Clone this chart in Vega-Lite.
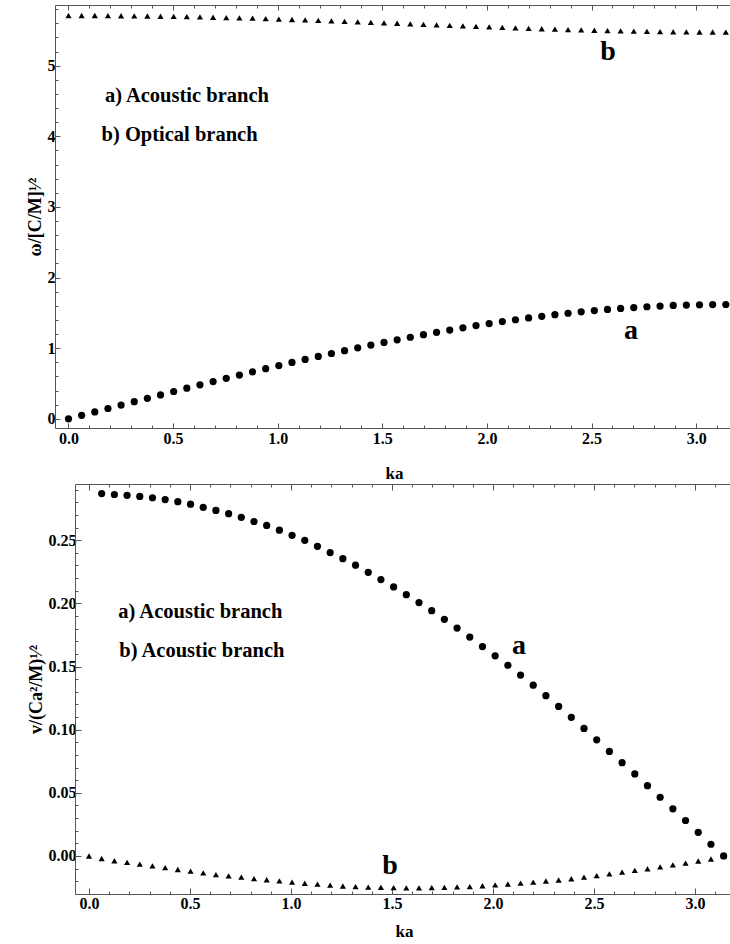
{
  "$schema": "https://vega.github.io/schema/vega-lite/v6.json",
  "background": "white",
  "padding": {"left": 26, "top": 1, "right": 0, "bottom": 0},
  "spacing": 0,
  "config": {
    "view": {"stroke": null},
    "font": "Liberation Serif",
    "axis": {"grid": false, "labelFlush": false, "labelOverlap": false}
  },
  "datasets": {
    "top": [
      {"ka":0,"w":0,"b":"a"},{"ka":0.0628,"w":0.049,"b":"a"},{"ka":0.1257,"w":0.097,"b":"a"},{"ka":0.1885,"w":0.146,"b":"a"},{"ka":0.2513,"w":0.195,"b":"a"},{"ka":0.3142,"w":0.243,"b":"a"},{"ka":0.377,"w":0.291,"b":"a"},{"ka":0.4398,"w":0.339,"b":"a"},{"ka":0.5027,"w":0.387,"b":"a"},{"ka":0.5655,"w":0.434,"b":"a"},{"ka":0.6283,"w":0.481,"b":"a"},{"ka":0.6912,"w":0.528,"b":"a"},{"ka":0.754,"w":0.574,"b":"a"},{"ka":0.8168,"w":0.62,"b":"a"},{"ka":0.8796,"w":0.665,"b":"a"},{"ka":0.9425,"w":0.71,"b":"a"},{"ka":1.0053,"w":0.754,"b":"a"},{"ka":1.0681,"w":0.798,"b":"a"},{"ka":1.131,"w":0.841,"b":"a"},{"ka":1.1938,"w":0.883,"b":"a"},{"ka":1.2566,"w":0.925,"b":"a"},{"ka":1.3195,"w":0.965,"b":"a"},{"ka":1.3823,"w":1.005,"b":"a"},{"ka":1.4451,"w":1.044,"b":"a"},{"ka":1.508,"w":1.082,"b":"a"},{"ka":1.5708,"w":1.119,"b":"a"},{"ka":1.6336,"w":1.155,"b":"a"},{"ka":1.6965,"w":1.191,"b":"a"},{"ka":1.7593,"w":1.225,"b":"a"},{"ka":1.8221,"w":1.257,"b":"a"},{"ka":1.885,"w":1.289,"b":"a"},{"ka":1.9478,"w":1.32,"b":"a"},{"ka":2.0106,"w":1.349,"b":"a"},{"ka":2.0735,"w":1.377,"b":"a"},{"ka":2.1363,"w":1.403,"b":"a"},{"ka":2.1991,"w":1.429,"b":"a"},{"ka":2.2619,"w":1.452,"b":"a"},{"ka":2.3248,"w":1.475,"b":"a"},{"ka":2.3876,"w":1.495,"b":"a"},{"ka":2.4504,"w":1.515,"b":"a"},{"ka":2.5133,"w":1.533,"b":"a"},{"ka":2.5761,"w":1.549,"b":"a"},{"ka":2.6389,"w":1.563,"b":"a"},{"ka":2.7018,"w":1.576,"b":"a"},{"ka":2.7646,"w":1.587,"b":"a"},{"ka":2.8274,"w":1.597,"b":"a"},{"ka":2.8903,"w":1.605,"b":"a"},{"ka":2.9531,"w":1.611,"b":"a"},{"ka":3.0159,"w":1.615,"b":"a"},{"ka":3.0788,"w":1.618,"b":"a"},{"ka":3.1416,"w":1.619,"b":"a"},
      {"ka":0,"w":5.711,"b":"b"},{"ka":0.0628,"w":5.711,"b":"b"},{"ka":0.1257,"w":5.711,"b":"b"},{"ka":0.1885,"w":5.71,"b":"b"},{"ka":0.2513,"w":5.708,"b":"b"},{"ka":0.3142,"w":5.706,"b":"b"},{"ka":0.377,"w":5.704,"b":"b"},{"ka":0.4398,"w":5.701,"b":"b"},{"ka":0.5027,"w":5.698,"b":"b"},{"ka":0.5655,"w":5.695,"b":"b"},{"ka":0.6283,"w":5.691,"b":"b"},{"ka":0.6912,"w":5.687,"b":"b"},{"ka":0.754,"w":5.682,"b":"b"},{"ka":0.8168,"w":5.678,"b":"b"},{"ka":0.8796,"w":5.673,"b":"b"},{"ka":0.9425,"w":5.667,"b":"b"},{"ka":1.0053,"w":5.661,"b":"b"},{"ka":1.0681,"w":5.655,"b":"b"},{"ka":1.131,"w":5.649,"b":"b"},{"ka":1.1938,"w":5.643,"b":"b"},{"ka":1.2566,"w":5.636,"b":"b"},{"ka":1.3195,"w":5.629,"b":"b"},{"ka":1.3823,"w":5.622,"b":"b"},{"ka":1.4451,"w":5.615,"b":"b"},{"ka":1.508,"w":5.608,"b":"b"},{"ka":1.5708,"w":5.601,"b":"b"},{"ka":1.6336,"w":5.593,"b":"b"},{"ka":1.6965,"w":5.586,"b":"b"},{"ka":1.7593,"w":5.579,"b":"b"},{"ka":1.8221,"w":5.571,"b":"b"},{"ka":1.885,"w":5.564,"b":"b"},{"ka":1.9478,"w":5.557,"b":"b"},{"ka":2.0106,"w":5.55,"b":"b"},{"ka":2.0735,"w":5.543,"b":"b"},{"ka":2.1363,"w":5.536,"b":"b"},{"ka":2.1991,"w":5.53,"b":"b"},{"ka":2.2619,"w":5.524,"b":"b"},{"ka":2.3248,"w":5.518,"b":"b"},{"ka":2.3876,"w":5.512,"b":"b"},{"ka":2.4504,"w":5.507,"b":"b"},{"ka":2.5133,"w":5.502,"b":"b"},{"ka":2.5761,"w":5.497,"b":"b"},{"ka":2.6389,"w":5.493,"b":"b"},{"ka":2.7018,"w":5.49,"b":"b"},{"ka":2.7646,"w":5.486,"b":"b"},{"ka":2.8274,"w":5.484,"b":"b"},{"ka":2.8903,"w":5.481,"b":"b"},{"ka":2.9531,"w":5.48,"b":"b"},{"ka":3.0159,"w":5.478,"b":"b"},{"ka":3.0788,"w":5.478,"b":"b"},{"ka":3.1416,"w":5.477,"b":"b"}
    ],
    "bot": [
      {"ka":0.0628,"v":0.2869,"b":"a"},{"ka":0.1257,"v":0.2862,"b":"a"},{"ka":0.1885,"v":0.2855,"b":"a"},{"ka":0.2513,"v":0.2847,"b":"a"},{"ka":0.3142,"v":0.2836,"b":"a"},{"ka":0.377,"v":0.2822,"b":"a"},{"ka":0.4398,"v":0.2805,"b":"a"},{"ka":0.5027,"v":0.2785,"b":"a"},{"ka":0.5655,"v":0.276,"b":"a"},{"ka":0.6283,"v":0.2736,"b":"a"},{"ka":0.6912,"v":0.271,"b":"a"},{"ka":0.754,"v":0.2681,"b":"a"},{"ka":0.8168,"v":0.2648,"b":"a"},{"ka":0.8796,"v":0.2617,"b":"a"},{"ka":0.9425,"v":0.2579,"b":"a"},{"ka":1.0053,"v":0.2539,"b":"a"},{"ka":1.0681,"v":0.2499,"b":"a"},{"ka":1.131,"v":0.2452,"b":"a"},{"ka":1.1938,"v":0.2402,"b":"a"},{"ka":1.2566,"v":0.2354,"b":"a"},{"ka":1.3195,"v":0.2302,"b":"a"},{"ka":1.3823,"v":0.2246,"b":"a"},{"ka":1.4451,"v":0.2188,"b":"a"},{"ka":1.508,"v":0.213,"b":"a"},{"ka":1.5708,"v":0.2069,"b":"a"},{"ka":1.6336,"v":0.2006,"b":"a"},{"ka":1.6965,"v":0.1942,"b":"a"},{"ka":1.7593,"v":0.1874,"b":"a"},{"ka":1.8221,"v":0.1804,"b":"a"},{"ka":1.885,"v":0.1733,"b":"a"},{"ka":1.9478,"v":0.1658,"b":"a"},{"ka":2.0106,"v":0.1585,"b":"a"},{"ka":2.0735,"v":0.151,"b":"a"},{"ka":2.1363,"v":0.1432,"b":"a"},{"ka":2.1991,"v":0.1352,"b":"a"},{"ka":2.2619,"v":0.1269,"b":"a"},{"ka":2.3248,"v":0.1184,"b":"a"},{"ka":2.3876,"v":0.1098,"b":"a"},{"ka":2.4504,"v":0.101,"b":"a"},{"ka":2.5133,"v":0.092,"b":"a"},{"ka":2.5761,"v":0.0828,"b":"a"},{"ka":2.6389,"v":0.0739,"b":"a"},{"ka":2.7018,"v":0.065,"b":"a"},{"ka":2.7646,"v":0.0557,"b":"a"},{"ka":2.8274,"v":0.0465,"b":"a"},{"ka":2.8903,"v":0.0373,"b":"a"},{"ka":2.9531,"v":0.0281,"b":"a"},{"ka":3.0159,"v":0.0187,"b":"a"},{"ka":3.0788,"v":0.0093,"b":"a"},{"ka":3.1416,"v":0,"b":"a"},
      {"ka":0,"v":0,"b":"b"},{"ka":0.0628,"v":-0.002,"b":"b"},{"ka":0.1257,"v":-0.0038,"b":"b"},{"ka":0.1885,"v":-0.0051,"b":"b"},{"ka":0.2513,"v":-0.0064,"b":"b"},{"ka":0.3142,"v":-0.0078,"b":"b"},{"ka":0.377,"v":-0.0092,"b":"b"},{"ka":0.4398,"v":-0.0107,"b":"b"},{"ka":0.5027,"v":-0.012,"b":"b"},{"ka":0.5655,"v":-0.0134,"b":"b"},{"ka":0.6283,"v":-0.0148,"b":"b"},{"ka":0.6912,"v":-0.0158,"b":"b"},{"ka":0.754,"v":-0.0168,"b":"b"},{"ka":0.8168,"v":-0.0179,"b":"b"},{"ka":0.8796,"v":-0.0188,"b":"b"},{"ka":0.9425,"v":-0.0197,"b":"b"},{"ka":1.0053,"v":-0.0207,"b":"b"},{"ka":1.0681,"v":-0.0216,"b":"b"},{"ka":1.131,"v":-0.0223,"b":"b"},{"ka":1.1938,"v":-0.0231,"b":"b"},{"ka":1.2566,"v":-0.0238,"b":"b"},{"ka":1.3195,"v":-0.0243,"b":"b"},{"ka":1.3823,"v":-0.0246,"b":"b"},{"ka":1.4451,"v":-0.0249,"b":"b"},{"ka":1.508,"v":-0.0251,"b":"b"},{"ka":1.5708,"v":-0.0252,"b":"b"},{"ka":1.6336,"v":-0.0252,"b":"b"},{"ka":1.6965,"v":-0.0251,"b":"b"},{"ka":1.7593,"v":-0.0248,"b":"b"},{"ka":1.8221,"v":-0.0245,"b":"b"},{"ka":1.885,"v":-0.0242,"b":"b"},{"ka":1.9478,"v":-0.0236,"b":"b"},{"ka":2.0106,"v":-0.0229,"b":"b"},{"ka":2.0735,"v":-0.0222,"b":"b"},{"ka":2.1363,"v":-0.0215,"b":"b"},{"ka":2.1991,"v":-0.0207,"b":"b"},{"ka":2.2619,"v":-0.0198,"b":"b"},{"ka":2.3248,"v":-0.019,"b":"b"},{"ka":2.3876,"v":-0.018,"b":"b"},{"ka":2.4504,"v":-0.0168,"b":"b"},{"ka":2.5133,"v":-0.0156,"b":"b"},{"ka":2.5761,"v":-0.0142,"b":"b"},{"ka":2.6389,"v":-0.0128,"b":"b"},{"ka":2.7018,"v":-0.0114,"b":"b"},{"ka":2.7646,"v":-0.0101,"b":"b"},{"ka":2.8274,"v":-0.0086,"b":"b"},{"ka":2.8903,"v":-0.0071,"b":"b"},{"ka":2.9531,"v":-0.0056,"b":"b"},{"ka":3.0159,"v":-0.004,"b":"b"},{"ka":3.0788,"v":-0.0024,"b":"b"},{"ka":3.1416,"v":0,"b":"b"}
    ],
    "topText": [
      {"ka":0.174,"w":4.49,"label":"a) Acoustic branch"},
      {"ka":0.158,"w":3.94,"label":"b) Optical branch"}
    ],
    "topLetters": [
      {"ka":2.579,"w":5.085,"label":"b"},
      {"ka":2.689,"w":1.133,"label":"a"}
    ],
    "botText": [
      {"ka":0.145,"v":0.1887,"label":"a) Acoustic branch"},
      {"ka":0.15,"v":0.1576,"label":"b) Acoustic branch"}
    ],
    "botLetters": [
      {"ka":2.129,"v":0.16,"label":"a"},
      {"ka":1.49,"v":-0.01425,"label":"b"}
    ]
  },
  "vconcat": [
    {
      "width": 678,
      "height": 423,
      "layer": [
        {
          "data": {"name": "top"},
          "mark": {"type": "point", "filled": true, "opacity": 1, "color": "black"},
          "encoding": {
            "x": {"field": "ka", "type": "quantitative",
              "scale": {"domain": [-0.0645, 3.176], "nice": false, "zero": false},
              "axis": {"orient": "bottom", "values": [0,0.1,0.2,0.3,0.4,0.5,0.6,0.7,0.8,0.9,1,1.1,1.2,1.3,1.4,1.5,1.6,1.7,1.8,1.9,2,2.1,2.2,2.3,2.4,2.5,2.6,2.7,2.8,2.9,3,3.1],
                "labelExpr": "datum.value % 0.5 === 0 ? format(datum.value, '.1f') : ''",
                "tickSize": {"condition": {"test": "datum.value % 0.5 === 0", "value": -5}, "value": -3},
                "labelFont": "Liberation Serif", "labelFontSize": 16, "labelFontWeight": "bold", "labelColor": "black",
                "titleFont": "Liberation Serif", "titleFontSize": 17, "titleFontWeight": "bold", "titleColor": "black",
                "domainColor": "#555", "tickColor": "#555",
                "labelPadding": 7, "title": "ka", "titlePadding": 17}},
            "y": {"field": "w", "type": "quantitative",
              "scale": {"domain": [-0.13, 5.86], "nice": false, "zero": false},
              "axis": {"orient": "left", "values": [0,0.2,0.4,0.6,0.8,1,1.2,1.4,1.6,1.8,2,2.2,2.4,2.6,2.8,3,3.2,3.4,3.6,3.8,4,4.2,4.4,4.6,4.8,5,5.2,5.4,5.6,5.8],
                "labelExpr": "datum.value % 1 === 0 ? format(datum.value, 'd') : ''",
                "tickSize": {"condition": {"test": "datum.value % 1 === 0", "value": -5}, "value": -3},
                "labelFont": "Liberation Serif", "labelFontSize": 16, "labelFontWeight": "bold", "labelColor": "black",
                "titleFont": "Liberation Serif", "titleFontSize": 18, "titleFontWeight": "bold", "titleColor": "black",
                "domainColor": "#555", "tickColor": "#555",
                "labelPadding": 5, "title": "ω/[C/M]¹⁄²", "titlePadding": 3}},
            "shape": {"field": "b", "type": "nominal", "scale": {"domain": ["a", "b"], "range": ["circle", "triangle-up"]}, "legend": null},
            "size": {"field": "b", "type": "nominal", "scale": {"domain": ["a", "b"], "range": [52, 38]}, "legend": null}
          }
        },
        {
          "data": {"name": "topText"},
          "mark": {"type": "text", "font": "Liberation Serif", "fontWeight": "bold", "fontSize": 20.5, "align": "left", "baseline": "alphabetic", "color": "black"},
          "encoding": {
            "x": {"field": "ka", "type": "quantitative",
              "scale": {"domain": [-0.0645, 3.176], "nice": false, "zero": false},
              "axis": {"orient": "top", "values": [0,0.1,0.2,0.3,0.4,0.5,0.6,0.7,0.8,0.9,1,1.1,1.2,1.3,1.4,1.5,1.6,1.7,1.8,1.9,2,2.1,2.2,2.3,2.4,2.5,2.6,2.7,2.8,2.9,3,3.1],
                "labels": false, "title": null, "domainColor": "#555", "tickColor": "#555",
                "tickSize": {"condition": {"test": "datum.value % 0.5 === 0", "value": -5}, "value": -3}}},
            "y": {"field": "w", "type": "quantitative", "scale": {"domain": [-0.13, 5.86], "nice": false, "zero": false}, "axis": null},
            "text": {"field": "label"}
          }
        },
        {
          "data": {"name": "topLetters"},
          "mark": {"type": "text", "font": "Liberation Serif", "fontWeight": "bold", "fontSize": 28, "align": "center", "baseline": "alphabetic", "color": "black"},
          "encoding": {
            "x": {"field": "ka", "type": "quantitative", "scale": {"domain": [-0.0645, 3.176], "nice": false, "zero": false}, "axis": null},
            "y": {"field": "w", "type": "quantitative", "scale": {"domain": [-0.13, 5.86], "nice": false, "zero": false}, "axis": null},
            "text": {"field": "label"}
          }
        }
      ],
      "resolve": {"axis": {"x": "independent", "y": "independent"}}
    },
    {
      "width": 678,
      "height": 410,
      "layer": [
        {
          "data": {"name": "bot"},
          "mark": {"type": "point", "filled": true, "opacity": 1, "color": "black"},
          "encoding": {
            "x": {"field": "ka", "type": "quantitative",
              "scale": {"domain": [-0.0693, 3.188], "range": [20, 678], "nice": false, "zero": false},
              "axis": {"orient": "bottom", "values": [0,0.1,0.2,0.3,0.4,0.5,0.6,0.7,0.8,0.9,1,1.1,1.2,1.3,1.4,1.5,1.6,1.7,1.8,1.9,2,2.1,2.2,2.3,2.4,2.5,2.6,2.7,2.8,2.9,3,3.1],
                "labelExpr": "datum.value % 0.5 === 0 ? format(datum.value, '.1f') : ''",
                "tickSize": {"condition": {"test": "datum.value % 0.5 === 0", "value": -6}, "value": -3},
                "labelFont": "Liberation Serif", "labelFontSize": 16, "labelFontWeight": "bold", "labelColor": "black",
                "titleFont": "Liberation Serif", "titleFontSize": 17, "titleFontWeight": "bold", "titleColor": "black",
                "domainColor": "#555", "tickColor": "#555",
                "labelPadding": 7, "title": "ka", "titlePadding": 9}},
            "y": {"field": "v", "type": "quantitative",
              "scale": {"domain": [-0.0301, 0.2945], "nice": false, "zero": false},
              "axis": {"orient": "left", "offset": -20, "values": [-0.02,-0.01,0,0.01,0.02,0.03,0.04,0.05,0.06,0.07,0.08,0.09,0.1,0.11,0.12,0.13,0.14,0.15,0.16,0.17,0.18,0.19,0.2,0.21,0.22,0.23,0.24,0.25,0.26,0.27,0.28,0.29],
                "labelExpr": "round(datum.value * 100) % 5 === 0 ? format(datum.value, '.2f') : ''",
                "tickSize": {"condition": {"test": "round(datum.value * 100) % 5 === 0", "value": -6}, "value": -3},
                "labelFont": "Liberation Serif", "labelFontSize": 16, "labelFontWeight": "bold", "labelColor": "black",
                "titleFont": "Liberation Serif", "titleFontSize": 18, "titleFontWeight": "bold", "titleColor": "black",
                "domainColor": "#555", "tickColor": "#555",
                "labelPadding": 5, "title": "v/(Ca²/M)¹⁄²", "titlePadding": 3}},
            "shape": {"field": "b", "type": "nominal", "scale": {"domain": ["a", "b"], "range": ["circle", "triangle-up"]}, "legend": null},
            "size": {"field": "b", "type": "nominal", "scale": {"domain": ["a", "b"], "range": [58, 42]}, "legend": null}
          }
        },
        {
          "data": {"name": "botText"},
          "mark": {"type": "text", "font": "Liberation Serif", "fontWeight": "bold", "fontSize": 20.5, "align": "left", "baseline": "alphabetic", "color": "black"},
          "encoding": {
            "x": {"field": "ka", "type": "quantitative",
              "scale": {"domain": [-0.0693, 3.188], "range": [20, 678], "nice": false, "zero": false},
              "axis": {"orient": "top", "values": [0,0.1,0.2,0.3,0.4,0.5,0.6,0.7,0.8,0.9,1,1.1,1.2,1.3,1.4,1.5,1.6,1.7,1.8,1.9,2,2.1,2.2,2.3,2.4,2.5,2.6,2.7,2.8,2.9,3,3.1],
                "labels": false, "title": null, "domainColor": "#555", "tickColor": "#555",
                "tickSize": {"condition": {"test": "datum.value % 0.5 === 0", "value": -6}, "value": -3}}},
            "y": {"field": "v", "type": "quantitative", "scale": {"domain": [-0.0301, 0.2945], "nice": false, "zero": false}, "axis": null},
            "text": {"field": "label"}
          }
        },
        {
          "data": {"name": "botLetters"},
          "mark": {"type": "text", "font": "Liberation Serif", "fontWeight": "bold", "fontSize": 28, "align": "center", "baseline": "alphabetic", "color": "black"},
          "encoding": {
            "x": {"field": "ka", "type": "quantitative", "scale": {"domain": [-0.0693, 3.188], "range": [20, 678], "nice": false, "zero": false}, "axis": null},
            "y": {"field": "v", "type": "quantitative", "scale": {"domain": [-0.0301, 0.2945], "nice": false, "zero": false}, "axis": null},
            "text": {"field": "label"}
          }
        }
      ],
      "resolve": {"axis": {"x": "independent", "y": "independent"}}
    }
  ]
}
